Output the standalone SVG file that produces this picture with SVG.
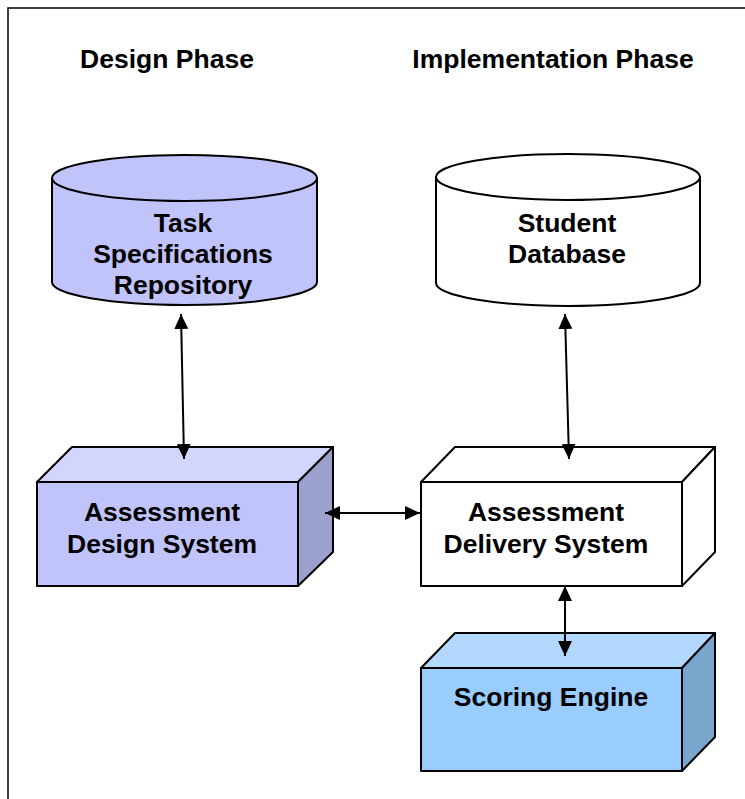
<svg xmlns="http://www.w3.org/2000/svg" width="745" height="799" viewBox="0 0 745 799">
<style>
.t{font-family:"Liberation Sans",Arial,sans-serif;font-weight:bold;font-size:26.5px;fill:#000;text-anchor:middle}
.s{stroke:#000;stroke-width:2;stroke-linejoin:round}
.c{stroke:#000;stroke-width:2}
</style>
<defs>
<marker id="ah" viewBox="0 0 15 14" refX="15" refY="7" markerWidth="15" markerHeight="14" markerUnits="userSpaceOnUse" orient="auto-start-reverse">
<path d="M0,0 L15,7 L0,14 Z" fill="#000"/>
</marker>
</defs>
<rect x="0" y="0" width="745" height="799" fill="#fff"/>
<rect x="8" y="8" width="800" height="800" fill="none" stroke="#000" stroke-width="1.5"/>
<g id="headings">
<text class="t" x="167" y="68">Design Phase</text>
<text class="t" x="553" y="68">Implementation Phase</text>
</g>
<g id="task-spec-repo">
<path class="s" d="M52,178 L52,282 A132.5,23 0 0 0 317,282 L317,178 Z" fill="#C0C4FA"/>
<ellipse class="s" cx="184.5" cy="178" rx="132.5" ry="23" fill="#C0C4FA"/>
<text class="t" x="183" y="232">Task</text>
<text class="t" x="183" y="263">Specifications</text>
<text class="t" x="183" y="294">Repository</text>
</g>
<g id="student-db">
<path class="s" d="M436,177 L436,283 A132,23 0 0 0 700,283 L700,177 Z" fill="#fff"/>
<ellipse class="s" cx="568" cy="177" rx="132" ry="23" fill="#fff"/>
<text class="t" x="567" y="232">Student</text>
<text class="t" x="567" y="263">Database</text>
</g>
<g id="design-system">
<polygon class="s" points="37,482 72,447 333,447 298,482" fill="#D2D5FC"/>
<polygon class="s" points="298,482 333,447 333,552 298,586" fill="#9CA1CE"/>
<rect class="s" x="37" y="482" width="261" height="104" fill="#C0C4FA"/>
<text class="t" x="162" y="521">Assessment</text>
<text class="t" x="162" y="553">Design System</text>
</g>
<g id="delivery-system">
<polygon class="s" points="421,482 455,447 715,447 682,482" fill="#fff"/>
<polygon class="s" points="682,482 715,447 715,552 682,586" fill="#fff"/>
<rect class="s" x="421" y="482" width="261" height="104" fill="#fff"/>
<text class="t" x="546" y="521">Assessment</text>
<text class="t" x="546" y="553">Delivery System</text>
</g>
<g id="scoring-engine">
<polygon class="s" points="421,668 455,633 715,633 682,668" fill="#B2D8FE"/>
<polygon class="s" points="682,668 715,633 715,737 682,771" fill="#7AA6CE"/>
<rect class="s" x="421" y="668" width="261" height="103" fill="#99CCFF"/>
<text class="t" x="551" y="706">Scoring Engine</text>
</g>
<g id="connectors">
<line class="c" x1="181" y1="314" x2="184" y2="459" marker-start="url(#ah)" marker-end="url(#ah)"/>
<line class="c" x1="565" y1="314" x2="569" y2="459" marker-start="url(#ah)" marker-end="url(#ah)"/>
<line class="c" x1="325" y1="513" x2="420" y2="513" marker-start="url(#ah)" marker-end="url(#ah)"/>
<line class="c" x1="565" y1="586" x2="565" y2="656" marker-start="url(#ah)" marker-end="url(#ah)"/>
</g>
</svg>
